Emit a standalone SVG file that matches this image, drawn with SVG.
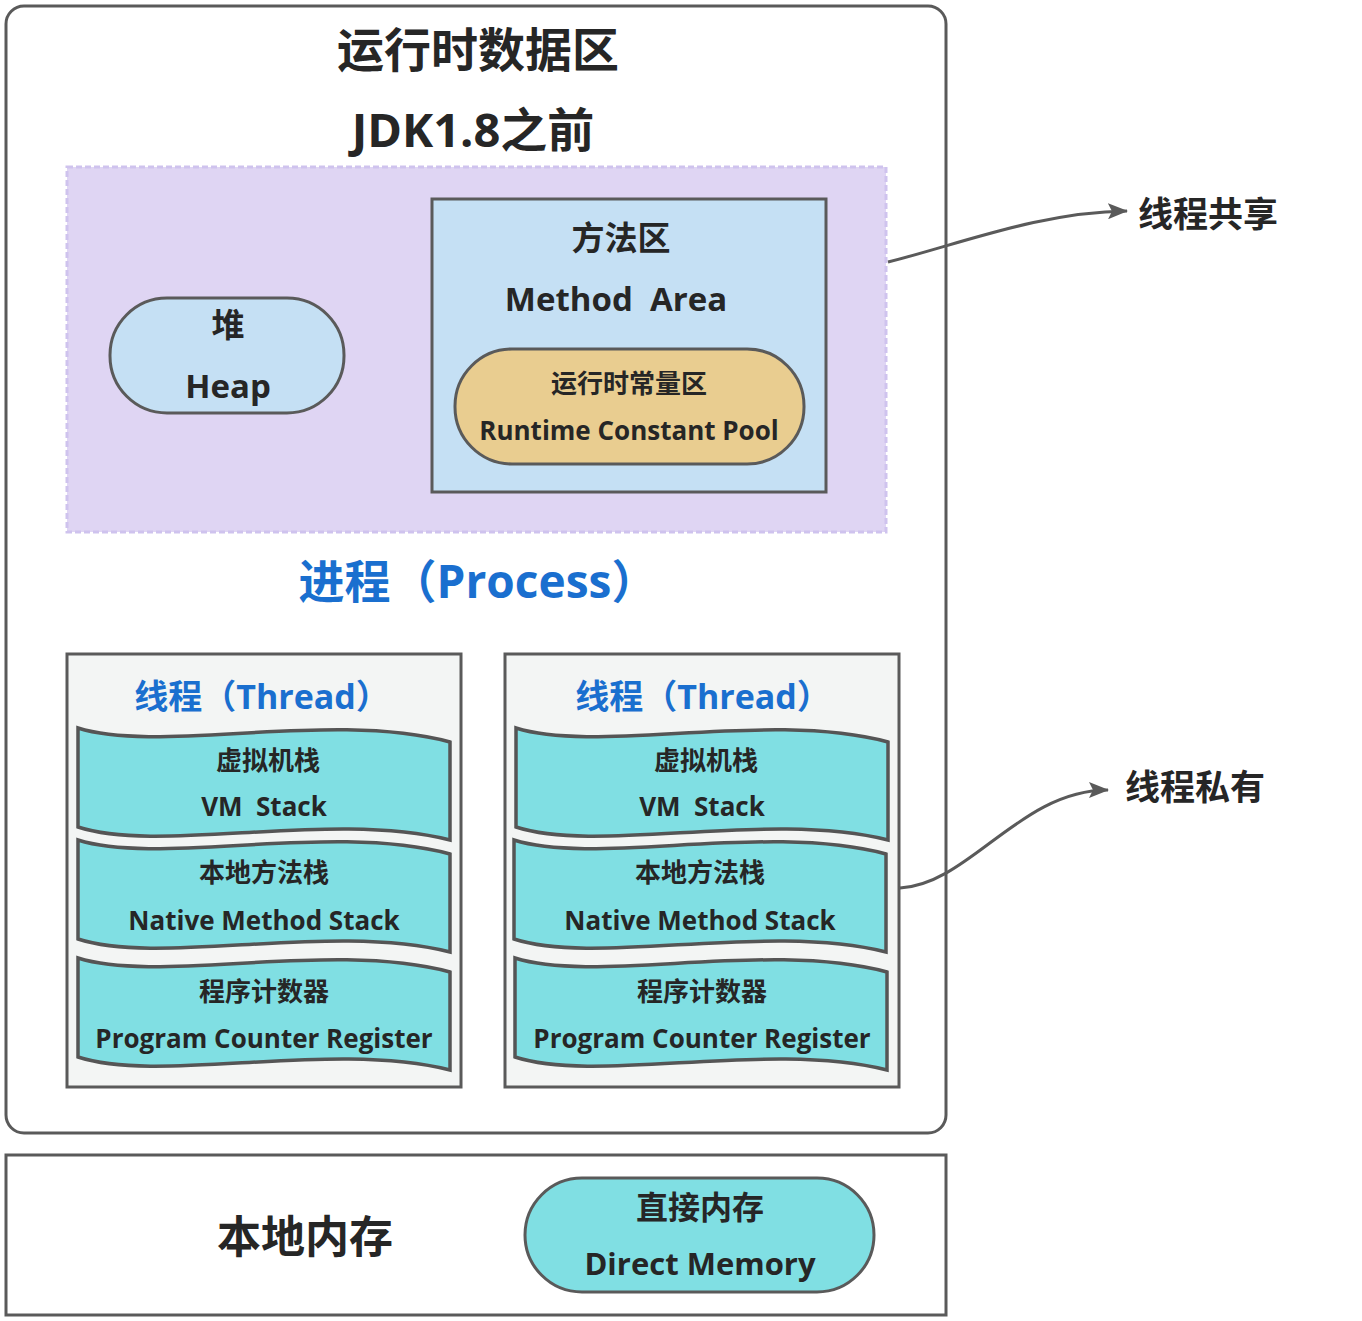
<svg xmlns="http://www.w3.org/2000/svg" width="1362" height="1321" viewBox="0 0 1362 1321">
<defs>
<style>
text{font-family:"Open Sans","Noto Sans CJK SC",sans-serif;font-weight:bold;fill:#262626;text-anchor:middle;white-space:pre}
.blue{fill:#1a6fcf}
.box{stroke:#5a5a5a;stroke-width:3}
.band{fill:#80dfe3;stroke:#555;stroke-width:3.5}
.conn{fill:none;stroke:#5a5a5a;stroke-width:3}
.t26{font-size:26px}
.t32{font-size:32px}
.t34{font-size:34px}
.t47{font-size:47px}
</style>
<marker id="arr" viewBox="0 0 20 16" refX="19" refY="8" markerWidth="20" markerHeight="16" markerUnits="userSpaceOnUse" orient="auto">
<path d="M0,0 L20,8 L0,16 L4,8 Z" fill="#5a5a5a"/>
</marker>
<path id="wave" d="M0,0 C82,26 252,-18 372,14 L372,112 C252,82 82,126 0,99 Z"/>
</defs>
<rect width="1362" height="1321" fill="#fff"/>

<g id="runtime-area">
<rect class="box" x="6" y="6" width="940" height="1127" rx="18" fill="#fff"/>
<text class="t47" x="478" y="67">运行时数据区</text>
<text class="t47" x="473" y="147">JDK1.8之前</text>
</g>

<g id="shared-area">
<rect x="67" y="167" width="819" height="365" fill="#dfd5f3" stroke="#cfc3ee" stroke-width="3" stroke-dasharray="6 3"/>
</g>

<g id="heap">
<rect class="box" x="110" y="298" width="234" height="115" rx="57" fill="#c5e0f4"/>
<text x="228" y="337" font-size="33">堆</text>
<text x="228" y="398" font-size="33">Heap</text>
</g>

<g id="method-area">
<rect class="box" x="432" y="199" width="394" height="293" fill="#c5e0f4"/>
<text x="621" y="250" font-size="33">方法区</text>
<text x="616" y="311" font-size="33">Method  Area</text>
</g>

<g id="runtime-constant-pool">
<rect class="box" x="455" y="349" width="349" height="115" rx="57" fill="#e9cd90"/>
<text class="t26" x="629" y="393">运行时常量区</text>
<text class="t26" x="629" y="440">Runtime Constant Pool</text>
</g>

<g id="process-label">
<text class="blue" font-size="46" x="478" y="598">进程（Process）</text>
</g>

<g id="thread1">
<rect class="box" x="67" y="654" width="394" height="433" fill="#f3f5f4"/>
<text class="blue t34" x="262" y="709">线程（Thread）</text>
<use href="#wave" class="band" x="78" y="728"/>
<text class="t26" x="268" y="770">虚拟机栈</text>
<text class="t26" x="264" y="816">VM  Stack</text>
<use href="#wave" class="band" x="78" y="840"/>
<text class="t26" x="264" y="882">本地方法栈</text>
<text class="t26" x="264" y="930">Native Method Stack</text>
<use href="#wave" class="band" x="78" y="958"/>
<text class="t26" x="264" y="1001">程序计数器</text>
<text class="t26" x="264" y="1048">Program Counter Register</text>
</g>

<g id="thread2">
<rect class="box" x="505" y="654" width="394" height="433" fill="#f3f5f4"/>
<text class="blue t34" x="703" y="709">线程（Thread）</text>
<use href="#wave" class="band" x="516" y="728"/>
<text class="t26" x="706" y="770">虚拟机栈</text>
<text class="t26" x="702" y="816">VM  Stack</text>
<use href="#wave" class="band" x="514" y="840"/>
<text class="t26" x="700" y="882">本地方法栈</text>
<text class="t26" x="700" y="930">Native Method Stack</text>
<use href="#wave" class="band" x="515" y="958"/>
<text class="t26" x="702" y="1001">程序计数器</text>
<text class="t26" x="702" y="1048">Program Counter Register</text>
</g>

<g id="native-memory">
<rect class="box" x="6" y="1155" width="940" height="160" fill="#fff"/>
<text x="305" y="1253" font-size="44">本地内存</text>
</g>

<g id="direct-memory">
<rect class="box" x="525" y="1178" width="349" height="114" rx="57" fill="#80dfe3"/>
<text class="t32" x="700" y="1219">直接内存</text>
<text x="700" y="1275" font-size="31">Direct Memory</text>
</g>

<g id="label-shared">
<text x="1208" y="227" font-size="35">线程共享</text>
</g>
<g id="label-private">
<text x="1195" y="800" font-size="35">线程私有</text>
</g>

<g id="connectors">
<path class="conn" d="M888,262 C960,244 1040,212 1127,211" marker-end="url(#arr)"/>
<path class="conn" d="M900,888 C970,884 1020,790 1108,790" marker-end="url(#arr)"/>
</g>
</svg>
